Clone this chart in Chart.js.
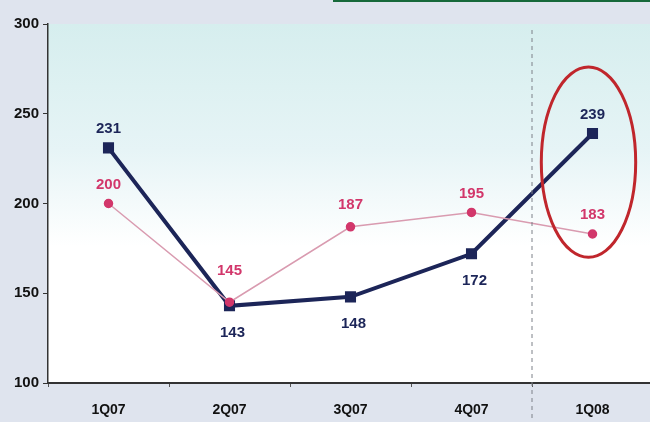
<!DOCTYPE html>
<html>
<head>
<meta charset="utf-8">
<script src="https://cdn.jsdelivr.net/npm/chart.js@4/dist/chart.umd.min.js"></script>
<style>
  html, body { margin: 0; padding: 0; background: #dfe4ee; overflow: hidden; }
  #wrap { width: 650px; height: 422px; position: relative; overflow: hidden; }
</style>
</head>
<body>
<div id="wrap"><canvas id="c" width="662" height="422"></canvas></div>
<script>
const quarters = ['1Q07', '2Q07', '3Q07', '4Q07', '1Q08'];
const navyValues = [231, 143, 148, 172, 239];
const pinkValues = [200, 145, 187, 195, 183];
const navyLabelSide = ['above', 'below', 'below', 'below', 'above'];
const pinkLabelSide = ['above', 'above', 'above', 'above', 'above'];
const yTicks = [100, 150, 200, 250, 300];

const NAVY = '#1c2558';
const PINK = '#d2376b';
const FONT = '"Liberation Sans", Arial, sans-serif';

// plot background: teal at top fading to white
const bgPlugin = {
    id: 'bg',
    beforeDraw(chart) {
        const { ctx, chartArea: a, width } = chart;
        ctx.save();
        ctx.fillStyle = '#dfe4ee';
        ctx.fillRect(0, 0, width, chart.height);
        const g = ctx.createLinearGradient(0, a.top, 0, a.bottom);
        g.addColorStop(0, '#d6eeee');
        g.addColorStop(0.35, '#e6f4f6');
        g.addColorStop(0.62, '#ffffff');
        g.addColorStop(1, '#ffffff');
        ctx.fillStyle = g;
        ctx.fillRect(a.left, a.top, a.right - a.left, a.bottom - a.top);
        // thin green rule at the very top
        ctx.strokeStyle = '#17693a';
        ctx.lineWidth = 2;
        ctx.beginPath();
        ctx.moveTo(333, 1);
        ctx.lineTo(width, 1);
        ctx.stroke();
        ctx.restore();
    }
};

// dashed divider between 4Q07 and 1Q08, plus the red ellipse round 1Q08
const notesPlugin = {
    id: 'notes',
    afterDatasetsDraw(chart) {
        const { ctx } = chart;
        const x = chart.scales.x, y = chart.scales.y;
        const step = x.getPixelForValue(1) - x.getPixelForValue(0);
        const divX = (x.getPixelForValue(3) + x.getPixelForValue(4)) / 2;
        ctx.save();
        ctx.strokeStyle = '#7d8088';
        ctx.lineWidth = 1;
        ctx.setLineDash([4, 4]);
        ctx.beginPath();
        ctx.moveTo(divX, 30);
        ctx.lineTo(divX, chart.height);
        ctx.stroke();
        ctx.setLineDash([]);

        const cx = x.getPixelForValue(4) - 4;
        const top = y.getPixelForValue(276);
        const bottom = y.getPixelForValue(170);
        ctx.strokeStyle = '#c0262c';
        ctx.lineWidth = 3;
        ctx.beginPath();
        ctx.ellipse(cx, (top + bottom) / 2, step * 0.39, (bottom - top) / 2, 0, 0, Math.PI * 2);
        ctx.stroke();
        ctx.restore();
    }
};

const labelPlugin = {
    id: 'pointLabels',
    afterDatasetsDraw(chart) {
        const { ctx } = chart;
        ctx.save();
        ctx.font = 'bold 15px ' + FONT;
        ctx.textAlign = 'center';
        ctx.textBaseline = 'middle';
        chart.data.datasets.forEach((ds, i) => {
            const meta = chart.getDatasetMeta(i);
            meta.data.forEach((pt, j) => {
                const below = ds.labelSide[j] === 'below';
                const extra = (ds.labelLift && ds.labelLift[j]) || 0;
                ctx.fillStyle = ds.labelColor;
                ctx.fillText(String(ds.data[j]), pt.x + (below ? 3 : 0), pt.y + (below ? 27 : -19 - extra));
            });
        });
        ctx.restore();
    }
};

new Chart(document.getElementById('c').getContext('2d'), {
    type: 'line',
    data: {
        labels: quarters,
        datasets: [
            {
                data: pinkValues,
                labelSide: pinkLabelSide,
                labelLift: [0, 12, 3, 0, 0],
                labelColor: PINK,
                borderColor: '#d99bb0',
                borderWidth: 1.5,
                pointStyle: 'circle',
                pointRadius: 4,
                pointBackgroundColor: PINK,
                pointBorderColor: PINK,
                tension: 0
            },
            {
                data: navyValues,
                labelSide: navyLabelSide,
                labelColor: NAVY,
                borderColor: NAVY,
                borderWidth: 4,
                pointStyle: 'rect',
                pointRadius: 5,
                pointBackgroundColor: NAVY,
                pointBorderColor: NAVY,
                tension: 0
            }
        ]
    },
    options: {
        responsive: false,
        animation: false,
        events: [],
        layout: { padding: { top: 24, right: 0, left: 0, bottom: 0 } },
        plugins: { legend: { display: false }, tooltip: { enabled: false } },
        scales: {
            x: {
                offset: true,
                grid: {
                    display: true,
                    offset: true,
                    drawOnChartArea: false,
                    drawTicks: true,
                    tickLength: 4,
                    color: '#555'
                },
                border: { display: true, color: '#333', width: 2 },
                ticks: {
                    color: '#111',
                    padding: 15,
                    font: { family: FONT, size: 14, weight: 'bold' }
                },
                afterFit(scale) { scale.height = 39; }
            },
            y: {
                min: 100,
                max: 300,
                afterBuildTicks(scale) { scale.ticks = yTicks.map(v => ({ value: v })); },
                grid: {
                    display: true,
                    drawOnChartArea: false,
                    drawTicks: true,
                    tickLength: 5,
                    color: '#333'
                },
                border: { display: true, color: '#333', width: 1.5 },
                ticks: {
                    color: '#111',
                    padding: 4,
                    font: { family: FONT, size: 15, weight: 'bold' }
                },
                afterFit(scale) { scale.width = 48; }
            }
        }
    },
    plugins: [bgPlugin, notesPlugin, labelPlugin]
});
</script>
</body>
</html>
